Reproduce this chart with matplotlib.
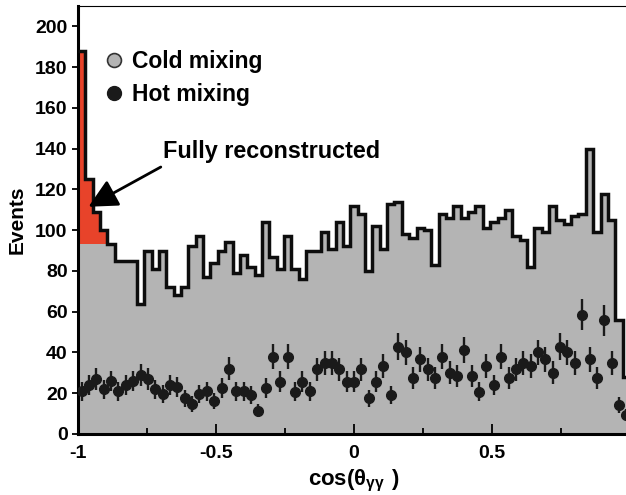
import numpy as np
import matplotlib
matplotlib.use("Agg")
import matplotlib.pyplot as plt
from matplotlib.lines import Line2D

plt.rcParams['font.family'] = ['Liberation Sans', 'DejaVu Sans']
plt.rcParams['font.weight'] = 'bold'
plt.rcParams['axes.unicode_minus'] = False
plt.rcParams['mathtext.fontset'] = 'custom'
plt.rcParams['mathtext.rm'] = 'Liberation Sans'
plt.rcParams['mathtext.bf'] = 'Liberation Sans:bold'

# 75 bins on cos(theta_gg) from -1 to 1
n_bins = 75
x_min, x_max = -1.0, 1.0

# cold mixing: total counts per bin (outline)
cold_counts = [188, 125, 109, 100, 93, 85, 85, 85, 64, 90,
               81, 90, 72, 68, 72, 92, 97, 77, 84, 90,
               94, 79, 88, 82, 78, 104, 87, 81, 97, 81,
               76, 90, 90, 99, 91, 104, 92, 112, 108, 80,
               102, 91, 113, 114, 98, 96, 101, 100, 83, 108,
               106, 112, 106, 109, 112, 101, 104, 106, 110, 97,
               95, 82, 101, 99, 112, 105, 103, 107, 108, 140,
               99, 118, 105, 56, 28]

# fully reconstructed part (red) in the first bins
full_reco = [95, 32, 16, 7]

# hot mixing points
hot_counts = [21, 24, 27, 22, 26, 21, 24, 26, 29, 27,
              22, 19.5, 24, 23, 17.5, 14.6, 19.5, 21, 16.3, 22.5,
              32, 21, 21, 19.3, 11.5, 22.6, 38, 25.7, 38, 20.8,
              25.7, 21, 31.8, 35, 35, 31.8, 25.7, 25.7, 31.8, 17.5,
              25.7, 33.4, 19.2, 42.9, 40, 27.4, 36.7, 31.8, 27.4, 38,
              30.1, 28.5, 41.3, 28.5, 20.8, 33.4, 24.1, 38, 27.4, 31.8,
              35, 33.4, 40, 36.7, 30.1, 42.9, 40, 35, 58.5, 36.7,
              27.4, 55.7, 35, 14.3, 9.3]

y_ticks = [0, 20, 40, 60, 80, 100, 120, 140, 160, 180, 200]
x_ticks = [-1, -0.5, 0, 0.5, 1]
x_tick_labels = ['-1', '-0.5', '0', '0.5', '1']

edges = np.linspace(x_min, x_max, n_bins + 1)
centers = 0.5 * (edges[:-1] + edges[1:])
cold = np.array(cold_counts, dtype=float)
hot = np.array(hot_counts, dtype=float)

grey = '#b4b4b4'
red = '#e8432a'

fig = plt.figure(figsize=(6.26, 4.95), dpi=100)
ax = fig.add_axes([78 / 626, 61 / 495, 552 / 626, 428 / 495])

# cold mixing histogram
ax.stairs(cold, edges, fill=True, color=grey, zorder=1)
nr = len(full_reco)
ax.stairs(cold[:nr], edges[:nr + 1], baseline=cold[:nr] - np.array(full_reco),
          fill=True, color=red, zorder=2)
ax.stairs(cold, edges, color='#0d0d0d', lw=2.5, zorder=3, baseline=None)

# hot mixing with poisson errors
ax.errorbar(centers, hot, yerr=np.sqrt(hot), fmt='o', color='#1a1a1a',
            ms=7, elinewidth=1.7, capsize=0, zorder=4)

ax.set_xlim(x_min, x_max)
ax.set_ylim(0, 210)
ax.set_yticks(y_ticks)
ax.set_xticks(x_ticks)
ax.set_xticklabels(x_tick_labels)
ax.set_xticks([-0.75, -0.25, 0.25, 0.75], minor=True)
ax.tick_params(axis='x', which='major', direction='in', length=7, width=1.3,
               labelsize=14, pad=8)
ax.tick_params(axis='x', which='minor', direction='in', length=4, width=1.3)
ax.tick_params(axis='y', direction='out', length=4, width=1.3, labelsize=14)

for side in ['left', 'bottom']:
    ax.spines[side].set_linewidth(2.2)
ax.spines['top'].set_linewidth(0.8)
ax.spines['right'].set_linewidth(0.8)

ax.set_ylabel('Events', fontsize=15, fontweight='bold', labelpad=6)
ax.set_xlabel(r'$\mathbf{cos(}\mathrm{\theta}_{\mathrm{\gamma\gamma}}\ \mathbf{)}$',
              fontsize=16, fontweight='normal', labelpad=4)

handles = [Line2D([], [], marker='o', ls='', ms=10, mfc=grey, mec='#333333', mew=1.2),
           Line2D([], [], marker='o', ls='', ms=10, mfc='#1a1a1a', mec='#1a1a1a')]
ax.legend(handles, ['Cold mixing', 'Hot mixing'], loc='upper left',
          bbox_to_anchor=(0.019, 0.929), frameon=False,
          handlelength=1.0, handletextpad=0.3, labelspacing=0.42,
          borderaxespad=0.2, prop={'weight': 'bold', 'size': 16.5})

ax.text(-0.692, 138.6, 'Fully reconstructed', fontsize=16.8, fontweight='bold',
        ha='left', va='center')
ax.annotate('', xy=(-0.962, 111.5), xytext=(-0.70, 131),
            arrowprops=dict(arrowstyle='-|>,head_length=0.8,head_width=0.4',
                            color='black', lw=2, mutation_scale=22,
                            shrinkA=0, shrinkB=0))

fig.savefig('out.png', dpi=100, facecolor='white')
